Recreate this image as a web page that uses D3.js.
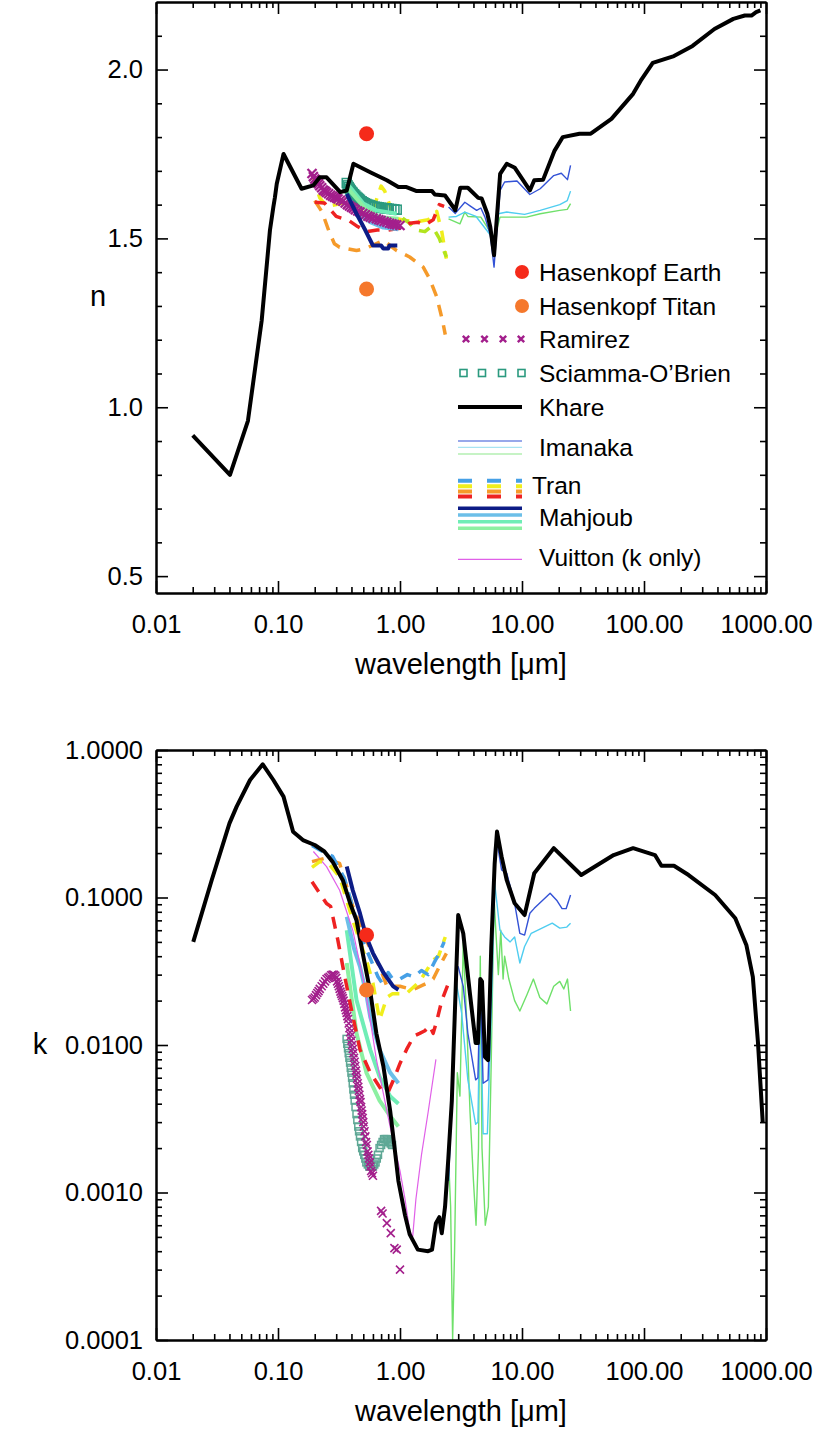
<!DOCTYPE html>
<html><head><meta charset="utf-8">
<script src="https://cdn.jsdelivr.net/npm/d3@7"></script>
<style>body{margin:0;background:#fff} svg{display:block} text{font-family:"Liberation Sans",Arial,Helvetica,sans-serif}</style>
</head><body>
<svg id="c" width="826" height="1431"></svg>
<script>
// ---------------- DATA ----------------
const xTickValues = [0.01, 0.1, 1, 10, 100, 1000];
const xTickLabels = ["0.01", "0.10", "1.00", "10.00", "100.00", "1000.00"];
const nTickValues = [0.5, 1.0, 1.5, 2.0];
const nTickLabels = ["0.5", "1.0", "1.5", "2.0"];
const kTickValues = [1e-4, 1e-3, 1e-2, 1e-1, 1];
const kTickLabels = ["0.0001", "0.0010", "0.0100", "0.1000", "1.0000"];

// Hasenkopf (wavelength, n, k)
const hasenkopfEarth = [0.532, 1.81, 0.0557];
const hasenkopfTitan = [0.532, 1.35, 0.0236];

// Khare n
const khareN = [[0.02,0.917],[0.0404,0.80],[0.0567,0.96],[0.0735,1.257],[0.0859,1.524],[0.0916,1.593],[0.0944,1.622],[0.0977,1.662],[0.111,1.75],[0.156,1.647],[0.195,1.657],[0.22,1.681],[0.25,1.681],[0.324,1.637],[0.366,1.642],[0.415,1.721],[0.57,1.696],[0.78,1.672],[0.97,1.652],[1.13,1.652],[1.37,1.64],[1.83,1.64],[1.93,1.63],[2.34,1.627],[2.73,1.593],[2.84,1.583],[3.12,1.65],[3.6,1.65],[4.38,1.62],[4.67,1.618],[5.2,1.573],[5.5,1.533],[5.9,1.45],[6.62,1.691],[7.5,1.721],[8.74,1.709],[11.6,1.642],[12.6,1.672],[14.9,1.674],[18.5,1.76],[21.6,1.8],[29.6,1.81],[36.6,1.81],[54.1,1.854],[81.4,1.928],[94,1.967],[118,2.02],[176,2.04],[250,2.07],[378,2.12],[540,2.15],[670,2.16],[760,2.16],[830,2.17],[900,2.175]];
// Khare k
const khareK = [[0.0202,0.050],[0.0286,0.131],[0.04,0.318],[0.0458,0.413],[0.059,0.626],[0.075,0.80],[0.0916,0.626],[0.111,0.483],[0.133,0.279],[0.16,0.245],[0.2,0.227],[0.24,0.205],[0.28,0.175],[0.34,0.131],[0.39,0.0914],[0.44,0.07],[0.5,0.040],[0.57,0.023],[0.64,0.012],[0.73,0.0072],[0.83,0.0036],[0.91,0.0019],[0.97,0.0012],[1.1,0.0007],[1.2,0.00052],[1.4,0.00041],[1.7,0.0004],[1.83,0.00041],[1.97,0.00062],[2.1,0.00068],[2.2,0.00053],[2.34,0.0008],[2.49,0.0017],[2.66,0.0042],[3.0,0.076],[3.3,0.057],[3.75,0.022],[4.17,0.0103],[4.35,0.0103],[4.55,0.028],[4.7,0.027],[4.97,0.0083],[5.27,0.0079],[5.6,0.0465],[5.97,0.17],[6.24,0.28],[6.8,0.19],[7.5,0.131],[8.7,0.0914],[10.5,0.076],[12.6,0.146],[18.2,0.216],[30.6,0.142],[56.4,0.194],[81.4,0.216],[123,0.194],[139,0.164],[176,0.164],[232,0.142],[383,0.104],[560,0.0723],[690,0.0477],[780,0.029],[860,0.0103],[940,0.003]];

// Imanaka n (three samples)
const imanakaBlueN = [[2.5,1.593],[2.84,1.574],[3.4,1.607],[3.8,1.595],[4.25,1.583],[4.6,1.59],[4.97,1.563],[5.5,1.51],[5.9,1.415],[6.25,1.533],[6.62,1.642],[7.2,1.667],[9.1,1.67],[11.6,1.63],[14.1,1.647],[18.2,1.686],[21,1.693],[23.6,1.674],[25,1.716]];
const imanakaCyanN = [[2.5,1.563],[2.9,1.565],[3.4,1.578],[4.2,1.565],[5.5,1.51],[5.9,1.455],[6.4,1.573],[7.5,1.578],[10.5,1.571],[14.1,1.583],[20.4,1.6],[23.5,1.612],[25,1.64]];
const imanakaGreenN = [[2.5,1.558],[3.1,1.543],[3.4,1.578],[3.6,1.565],[4.6,1.563],[5.6,1.514],[6.0,1.504],[6.6,1.563],[7.5,1.563],[10.9,1.563],[14.1,1.573],[20.4,1.583],[23.5,1.586],[25,1.603]];
// Imanaka k
const imanakaBlueK = [[2.5,0.0012],[2.9,0.034],[3.0,0.034],[3.3,0.025],[3.6,0.012],[4.17,0.0058],[4.35,0.006],[4.55,0.0276],[4.8,0.0055],[5.27,0.0058],[5.6,0.0276],[5.97,0.22],[6.3,0.227],[6.8,0.154],[7.5,0.146],[8.7,0.0914],[9.6,0.0572],[10.5,0.0556],[11.6,0.0782],[12.6,0.0844],[17,0.107],[19.4,0.095],[21.3,0.084],[23,0.084],[25,0.104]];
const imanakaCyanK = [[2.5,0.0012],[2.9,0.0263],[3.2,0.0165],[3.6,0.0058],[4.17,0.0029],[4.35,0.003],[4.55,0.025],[4.8,0.0025],[5.2,0.0025],[5.6,0.0165],[5.97,0.125],[6.6,0.06],[7.2,0.054],[8.0,0.05],[8.7,0.054],[9.6,0.036],[10.5,0.0465],[11.9,0.0572],[17.7,0.067],[20.4,0.062],[23.3,0.063],[25,0.067]];
const imanakaGreenK = [[2.5,0.0017],[2.6,0.0008],[2.7,0.0001],[2.8,0.0004],[2.95,0.0065],[3.1,0.0045],[3.3,0.05],[3.5,0.0165],[3.75,0.0035],[4.0,0.0012],[4.2,0.0006],[4.4,0.002],[4.55,0.04],[4.7,0.002],[5.0,0.0006],[5.3,0.0008],[5.6,0.008],[5.9,0.1],[6.1,0.06],[6.4,0.03],[6.7,0.06],[7.0,0.028],[7.2,0.04],[7.8,0.028],[8.7,0.02],[9.6,0.017],[11,0.022],[12.4,0.028],[14,0.021],[16,0.019],[18.2,0.025],[20.4,0.027],[22,0.024],[23.6,0.028],[25,0.017]];

// Tran n
const tranRedN = [[0.2,1.607],[0.24,1.605],[0.3,1.565],[0.38,1.553],[0.45,1.535],[0.53,1.52],[0.65,1.525],[0.8,1.525],[1.0,1.53],[1.2,1.545],[1.4,1.548],[1.6,1.54],[1.87,1.555],[2.1,1.60],[2.3,1.595]];
const tranYellowN = [[0.19,1.69],[0.22,1.62],[0.25,1.595],[0.3,1.60],[0.36,1.607],[0.45,1.59],[0.6,1.585],[0.7,1.655],[0.75,1.64],[0.9,1.56],[1.1,1.553],[1.4,1.55],[1.7,1.555],[2.0,1.58],[2.2,1.52],[2.4,1.44]];
const tranOrangeN = [[0.2,1.612],[0.23,1.578],[0.26,1.524],[0.29,1.484],[0.32,1.474],[0.44,1.464],[0.52,1.47],[0.73,1.494],[0.94,1.464],[1.2,1.445],[1.55,1.415],[1.75,1.38],[2.0,1.327],[2.15,1.28],[2.25,1.25],[2.35,1.215]];
const tranLimeN = [[1.05,1.56],[1.2,1.545],[1.35,1.525],[1.6,1.52],[1.8,1.535],[1.95,1.52],[2.1,1.50],[2.25,1.47],[2.4,1.445]];
// Tran k
const tranBlueK = [[0.19,0.225],[0.22,0.21],[0.28,0.19],[0.35,0.135],[0.42,0.08],[0.5,0.05],[0.6,0.035],[0.66,0.029],[0.72,0.026],[0.8,0.031],[0.87,0.028],[1.0,0.028],[1.15,0.03],[1.3,0.029],[1.5,0.032],[1.7,0.03],[1.9,0.036],[2.1,0.042],[2.3,0.05]];
const tranYellowK = [[0.19,0.16],[0.22,0.175],[0.26,0.17],[0.32,0.138],[0.41,0.07],[0.53,0.0377],[0.6,0.0263],[0.68,0.0148],[0.78,0.021],[0.87,0.0223],[1.13,0.0223],[1.45,0.027],[1.87,0.0377],[2.07,0.04],[2.35,0.054]];
const tranOrangeK = [[0.19,0.175],[0.24,0.184],[0.32,0.17],[0.41,0.087],[0.53,0.051],[0.68,0.034],[0.78,0.025],[1.0,0.025],[1.28,0.0237],[1.67,0.0263],[1.87,0.028],[2.1,0.034],[2.4,0.0418]];
const tranRedK = [[0.19,0.128],[0.25,0.091],[0.27,0.087],[0.31,0.051],[0.35,0.03],[0.4,0.0173],[0.47,0.0093],[0.57,0.0065],[0.7,0.005],[0.8,0.0048],[0.9,0.006],[1.0,0.0075],[1.13,0.0093],[1.3,0.0115],[1.45,0.012],[1.6,0.0125],[1.75,0.0135],[1.87,0.012],[2.0,0.0145],[2.2,0.02],[2.5,0.0263]];

// Mahjoub n
const mahjoubNavyN = [[0.366,1.632],[0.44,1.573],[0.52,1.524],[0.6,1.479],[0.7,1.479],[0.73,1.47],[0.8,1.47],[0.82,1.479],[0.95,1.479]];
const mahjoubSkyN = [[0.37,1.622],[0.47,1.573],[0.57,1.548],[0.73,1.532],[0.97,1.527]];
const mahjoubMintAN = [[0.37,1.662],[0.5,1.603],[0.64,1.583],[0.94,1.573]];
const mahjoubMintBN = [[0.375,1.647],[0.52,1.588],[0.68,1.563],[0.97,1.558]];
// Mahjoub k
const mahjoubNavyK = [[0.366,0.162],[0.41,0.112],[0.47,0.078],[0.53,0.054],[0.6,0.042],[0.73,0.031],[0.88,0.025],[0.97,0.0237]];
const mahjoubSkyK = [[0.366,0.074],[0.42,0.045],[0.47,0.034],[0.53,0.022],[0.57,0.0155],[0.68,0.0093],[0.83,0.0065],[0.97,0.0055]];
const mahjoubMintAK = [[0.366,0.06],[0.44,0.0202],[0.57,0.0093],[0.68,0.0061],[0.83,0.0045],[0.97,0.004]];
const mahjoubMintBK = [[0.366,0.036],[0.44,0.012],[0.53,0.0065],[0.68,0.0042],[0.83,0.0033],[0.97,0.0028]];

// Vuitton k
const vuittonK = [[0.195,0.205],[0.25,0.162],[0.32,0.112],[0.41,0.06],[0.5,0.0276],[0.57,0.0148],[0.64,0.008],[0.83,0.0028],[1.0,0.0014],[1.1,0.0009],[1.2,0.00055],[1.27,0.0005],[1.35,0.0009],[1.5,0.0018],[1.7,0.0035],[1.97,0.008]];

// Ramirez (markers)
const ramirezN = [[0.19,1.692],[0.195,1.683],[0.2,1.676],[0.205,1.672],[0.21,1.666],[0.215,1.662],[0.22,1.656],[0.228,1.65],[0.235,1.643],[0.243,1.64],[0.25,1.636],[0.26,1.632],[0.27,1.628],[0.28,1.625],[0.29,1.622],[0.3,1.62],[0.31,1.617],[0.325,1.613],[0.34,1.61],[0.355,1.605],[0.37,1.60],[0.385,1.596],[0.4,1.592],[0.415,1.589],[0.43,1.585],[0.45,1.581],[0.47,1.578],[0.495,1.574],[0.52,1.57],[0.545,1.566],[0.57,1.563],[0.6,1.56],[0.64,1.558],[0.67,1.555],[0.7,1.553],[0.74,1.55],[0.78,1.548],[0.82,1.545],[0.86,1.543],[0.9,1.541],[0.94,1.54],[1.0,1.538]];
const ramirezK = [[0.19,0.0202],[0.195,0.0206],[0.2,0.021],[0.205,0.0218],[0.21,0.0225],[0.215,0.0232],[0.22,0.024],[0.228,0.025],[0.235,0.026],[0.243,0.027],[0.25,0.028],[0.258,0.0285],[0.265,0.029],[0.273,0.0297],[0.28,0.03],[0.288,0.0299],[0.295,0.0295],[0.3,0.0285],[0.305,0.027],[0.31,0.026],[0.315,0.025],[0.32,0.024],[0.325,0.023],[0.33,0.0222],[0.335,0.0215],[0.34,0.0208],[0.345,0.02],[0.35,0.019],[0.355,0.018],[0.36,0.0172],[0.365,0.0165],[0.37,0.0157],[0.375,0.015],[0.38,0.014],[0.385,0.013],[0.39,0.0122],[0.395,0.0115],[0.4,0.0107],[0.405,0.01],[0.41,0.0094],[0.415,0.0088],[0.42,0.0082],[0.425,0.0077],[0.43,0.0072],[0.435,0.0067],[0.44,0.0063],[0.445,0.0059],[0.45,0.0055],[0.455,0.0052],[0.46,0.0049],[0.465,0.0046],[0.47,0.0043],[0.475,0.0041],[0.48,0.0038],[0.485,0.0036],[0.49,0.0034],[0.495,0.0032],[0.5,0.003],[0.505,0.0028],[0.512,0.0026],[0.52,0.0024],[0.527,0.0022],[0.535,0.0021],[0.542,0.0019],[0.55,0.0018],[0.557,0.0017],[0.565,0.0016],[0.572,0.0015],[0.58,0.0014],[0.59,0.00135],[0.6,0.0013],[0.7,0.00075],[0.72,0.00072],[0.78,0.00062],[0.84,0.00053],[0.9,0.00042],[0.94,0.00041],[1.0,0.0003]];

// Sciamma-O'Brien (markers)
const sciammaN = [[0.366,1.664],[0.372,1.657],[0.38,1.652],[0.388,1.647],[0.395,1.642],[0.403,1.638],[0.41,1.635],[0.42,1.631],[0.43,1.627],[0.44,1.623],[0.45,1.62],[0.46,1.617],[0.47,1.614],[0.485,1.61],[0.5,1.607],[0.515,1.604],[0.53,1.602],[0.55,1.6],[0.57,1.598],[0.595,1.596],[0.62,1.594],[0.645,1.593],[0.67,1.592],[0.7,1.591],[0.72,1.59],[0.75,1.589],[0.78,1.589],[0.81,1.588],[0.85,1.587],[0.9,1.586],[0.94,1.585]];
const sciammaK = [[0.365,0.011],[0.37,0.0102],[0.375,0.0095],[0.38,0.0088],[0.385,0.0082],[0.39,0.0076],[0.395,0.007],[0.4,0.0065],[0.405,0.006],[0.41,0.0055],[0.415,0.005],[0.42,0.0046],[0.425,0.0042],[0.432,0.0038],[0.44,0.0034],[0.447,0.0031],[0.455,0.0028],[0.462,0.0026],[0.47,0.0024],[0.48,0.0022],[0.49,0.002],[0.5,0.0019],[0.51,0.0018],[0.52,0.0017],[0.53,0.0016],[0.545,0.00155],[0.56,0.0015],[0.58,0.0015],[0.6,0.0015],[0.615,0.00155],[0.63,0.0016],[0.645,0.0017],[0.66,0.0018],[0.68,0.002],[0.7,0.0021],[0.72,0.0022],[0.74,0.0023],[0.76,0.0023],[0.78,0.0023],[0.8,0.00225],[0.82,0.0022],[0.84,0.00215],[0.86,0.0021]];

const legendNames = ["Hasenkopf Earth", "Hasenkopf Titan", "Ramirez", "Sciamma-O\u2019Brien", "Khare", "Imanaka", "Tran", "Mahjoub", "Vuitton (k only)"];

// ---------------- STYLE / LAYOUT ----------------
const C = {
  earth:"#f52a1a", titan:"#f5782c", ramirez:"#a31f8c", sciamma:"#2b9a7f",
  imaBlue:"#3352d6", imaCyan:"#4fcdf0", imaGreen:"#6fe06a",
  trBlue:"#46a0e6", trYellow:"#f0ee1c", trOrange:"#f59a2a", trRed:"#ee2222", trLime:"#b2e41e",
  mNavy:"#0c1c86", mSky:"#6cbfe8", mMintA:"#6fedb6", mMintB:"#8cf0a2", vuitton:"#e060e8"
};
const TICKFONT = 25.5, TITLEFONT = 29, LEGFONT = 24.5;
const svg = d3.select("#c");
const L = 156, R = 766;
const x = d3.scaleLog().domain([0.01, 1000]).range([L, R]);
const yN = d3.scaleLinear().domain([0.45, 2.2]).range([593, 2]);
const yK = d3.scaleLog().domain([1e-4, 1]).range([1340, 750]);

const xMinor = [];
for (let e = -2; e < 3; e++) for (let m = 2; m <= 9; m++) xMinor.push(m * Math.pow(10, e));
const nMinor = d3.range(5, 22).map(v => v / 10).filter(v => Math.abs(v * 2 - Math.round(v * 2)) > 1e-6);
const kMinor = [];
for (let e = -4; e < 0; e++) for (let m = 2; m <= 9; m++) kMinor.push(m * Math.pow(10, e));

function styleAxis(g) {
  g.selectAll("path.domain").attr("stroke", "#000").attr("stroke-width", 2);
  g.selectAll(".tick line").attr("stroke", "#000").attr("stroke-width", 1.6);
  g.selectAll("text").attr("font-size", TICKFONT).attr("font-family", '"Liberation Sans",Arial,Helvetica,sans-serif').attr("fill", "#000");
}

function drawFrame(y, yVals, yLabs, yMin, title, titleX) {
  const [bot, top] = y.range();
  const gB = svg.append("g").attr("transform", `translate(0,${bot})`)
    .call(d3.axisBottom(x).tickValues(xTickValues).tickSize(-12).tickSizeOuter(0).tickPadding(22).tickFormat((d, i) => xTickLabels[i]));
  styleAxis(gB);
  const gBm = svg.append("g").attr("transform", `translate(0,${bot})`)
    .call(d3.axisBottom(x).tickValues(xMinor).tickSize(-6).tickSizeOuter(0).tickFormat(""));
  styleAxis(gBm);
  const gT = svg.append("g").attr("transform", `translate(0,${top})`)
    .call(d3.axisTop(x).tickValues(xTickValues).tickSize(-12).tickSizeOuter(0).tickFormat(""));
  styleAxis(gT);
  const gTm = svg.append("g").attr("transform", `translate(0,${top})`)
    .call(d3.axisTop(x).tickValues(xMinor).tickSize(-6).tickSizeOuter(0).tickFormat(""));
  styleAxis(gTm);
  const gL = svg.append("g").attr("transform", `translate(${L},0)`)
    .call(d3.axisLeft(y).tickValues(yVals).tickSize(-12).tickSizeOuter(0).tickPadding(13).tickFormat((d, i) => yLabs[i]));
  styleAxis(gL);
  const gLm = svg.append("g").attr("transform", `translate(${L},0)`)
    .call(d3.axisLeft(y).tickValues(yMin).tickSize(-6).tickSizeOuter(0).tickFormat(""));
  styleAxis(gLm);
  const gR = svg.append("g").attr("transform", `translate(${R},0)`)
    .call(d3.axisRight(y).tickValues(yVals).tickSize(-12).tickSizeOuter(0).tickFormat(""));
  styleAxis(gR);
  const gRm = svg.append("g").attr("transform", `translate(${R},0)`)
    .call(d3.axisRight(y).tickValues(yMin).tickSize(-6).tickSizeOuter(0).tickFormat(""));
  styleAxis(gRm);
  svg.append("text").attr("x", (L + R) / 2).attr("y", bot + 81).attr("text-anchor", "middle")
    .attr("font-size", TITLEFONT).text("wavelength [\u03bcm]");
  svg.append("text").attr("x", titleX).attr("y", (top + bot) / 2).attr("dy", "0.3em").attr("text-anchor", "middle")
    .attr("font-size", TITLEFONT).text(title);
}

function clipFor(id, y) {
  const [bot, top] = y.range();
  svg.append("clipPath").attr("id", id).append("rect").attr("x", L).attr("y", top).attr("width", R - L).attr("height", bot - top);
  return svg.append("g").attr("clip-path", `url(#${id})`);
}

function line(g, y, data, color, w, dash) {
  const ln = d3.line().x(d => x(d[0])).y(d => y(d[1]));
  g.append("path").attr("d", ln(data)).attr("fill", "none").attr("stroke", color)
    .attr("stroke-width", w).attr("stroke-linejoin", "round").attr("stroke-dasharray", dash || null);
}
function crosses(g, y, data, color, s, w) {
  g.append("g").selectAll("path").data(data).join("path")
    .attr("d", d => { const cx = x(d[0]), cy = y(d[1]); return `M${cx-s},${cy-s}L${cx+s},${cy+s}M${cx-s},${cy+s}L${cx+s},${cy-s}`; })
    .attr("stroke", color).attr("stroke-width", w || 1.8).attr("fill", "none");
}
function squares(g, y, data, color, s) {
  g.append("g").selectAll("rect").data(data).join("rect")
    .attr("x", d => x(d[0]) - s).attr("y", d => y(d[1]) - s).attr("width", 2 * s).attr("height", 2 * s)
    .attr("fill", "none").attr("stroke", color).attr("stroke-width", 1.5);
}

const DASH = "12,9";
// ---------- TOP PANEL (n) ----------
const gn = clipFor("clipN", yN);
line(gn, yN, imanakaGreenN, C.imaGreen, 1.4);
line(gn, yN, imanakaCyanN, C.imaCyan, 1.4);
line(gn, yN, imanakaBlueN, C.imaBlue, 1.4);
line(gn, yN, tranOrangeN, C.trOrange, 3.5, DASH);
line(gn, yN, tranYellowN, C.trYellow, 3.5, DASH);
line(gn, yN, tranLimeN, C.trLime, 3.5, DASH);
line(gn, yN, tranRedN, C.trRed, 3.5, DASH);
squares(gn, yN, sciammaN, C.sciamma, 4.5);
line(gn, yN, mahjoubMintAN, C.mMintA, 4);
line(gn, yN, mahjoubMintBN, C.mMintB, 4);
line(gn, yN, mahjoubSkyN, C.mSky, 4);
crosses(gn, yN, ramirezN, C.ramirez, 4.5, 2.2);
line(gn, yN, mahjoubNavyN, C.mNavy, 4);
line(gn, yN, khareN, "#000", 4);
gn.append("circle").attr("cx", x(hasenkopfEarth[0])).attr("cy", yN(hasenkopfEarth[1])).attr("r", 7.5).attr("fill", C.earth);
gn.append("circle").attr("cx", x(hasenkopfTitan[0])).attr("cy", yN(hasenkopfTitan[1])).attr("r", 7.5).attr("fill", C.titan);

// ---------- BOTTOM PANEL (k) ----------
const gk = clipFor("clipK", yK);
line(gk, yK, imanakaGreenK, C.imaGreen, 1.4);
line(gk, yK, imanakaCyanK, C.imaCyan, 1.4);
line(gk, yK, imanakaBlueK, C.imaBlue, 1.4);
line(gk, yK, mahjoubMintBK, C.mMintB, 4);
line(gk, yK, mahjoubMintAK, C.mMintA, 4);
line(gk, yK, mahjoubSkyK, C.mSky, 4);
squares(gk, yK, sciammaK, "#5fa896", 3.5);
crosses(gk, yK, ramirezK, C.ramirez, 4, 1.6);
line(gk, yK, vuittonK, C.vuitton, 1.2);
line(gk, yK, tranRedK, C.trRed, 3.5, DASH);
line(gk, yK, tranOrangeK, C.trOrange, 3.5, DASH);
line(gk, yK, tranYellowK, C.trYellow, 3.5, DASH);
line(gk, yK, tranBlueK, C.trBlue, 3.5, DASH);
line(gk, yK, khareK, "#000", 4);
line(gk, yK, mahjoubNavyK, C.mNavy, 4);
gk.append("circle").attr("cx", x(hasenkopfEarth[0])).attr("cy", yK(hasenkopfEarth[2])).attr("r", 7.5).attr("fill", C.earth);
gk.append("circle").attr("cx", x(hasenkopfTitan[0])).attr("cy", yK(hasenkopfTitan[2])).attr("r", 7.5).attr("fill", C.titan);

drawFrame(yN, nTickValues, nTickLabels, nMinor, "n", 98);
drawFrame(yK, kTickValues, kTickLabels, kMinor, "k", 40);

// ---------- LEGEND ----------
const lg = svg.append("g");
const lx0 = 458, lx1 = 522, tx = 539;
const rowY = [272, 306, 339, 373, 407, 447, 485, 517, 557];
const txX = [tx, tx, tx, tx, tx, tx, 532, tx, tx];
legendNames.forEach((nm, i) => {
  lg.append("text").attr("x", txX[i]).attr("y", rowY[i]).attr("dy", "0.36em").attr("font-size", LEGFONT).text(nm);
});
lg.append("circle").attr("cx", 522).attr("cy", rowY[0]).attr("r", 7).attr("fill", C.earth);
lg.append("circle").attr("cx", 522).attr("cy", rowY[1]).attr("r", 7).attr("fill", C.titan);
[466, 484.5, 503, 521].forEach(cx => {
  const s = 3.2, cy = rowY[2];
  lg.append("path").attr("d", `M${cx-s},${cy-s}L${cx+s},${cy+s}M${cx-s},${cy+s}L${cx+s},${cy-s}`).attr("stroke", C.ramirez).attr("stroke-width", 2.4);
});
[463.5, 482, 502, 521.5].forEach(cx => {
  lg.append("rect").attr("x", cx - 3.5).attr("y", rowY[3] - 3.5).attr("width", 7).attr("height", 7).attr("fill", "none").attr("stroke", C.sciamma).attr("stroke-width", 1.6);
});
function lgLine(y, color, w, dash) {
  lg.append("line").attr("x1", lx0).attr("x2", lx1).attr("y1", y).attr("y2", y).attr("stroke", color).attr("stroke-width", w).attr("stroke-dasharray", dash || null);
}
lgLine(rowY[4], "#000", 4);
lgLine(441, C.imaBlue, 1.2); lgLine(447.3, "#a8e4f2", 1.2); lgLine(454, "#8ee88c", 1.2);
lgLine(480.7, C.trBlue, 4, "14,15"); lgLine(486.2, C.trYellow, 4, "14,15"); lgLine(491.5, C.trOrange, 4, "14,15"); lgLine(496.5, C.trRed, 4, "14,15");
lgLine(508.3, C.mNavy, 3.5); lgLine(515, C.mSky, 3.5); lgLine(521.7, C.mMintA, 3.5); lgLine(528.3, C.mMintB, 3.5);
lgLine(559.3, C.vuitton, 1.2);
</script>
</body></html>
